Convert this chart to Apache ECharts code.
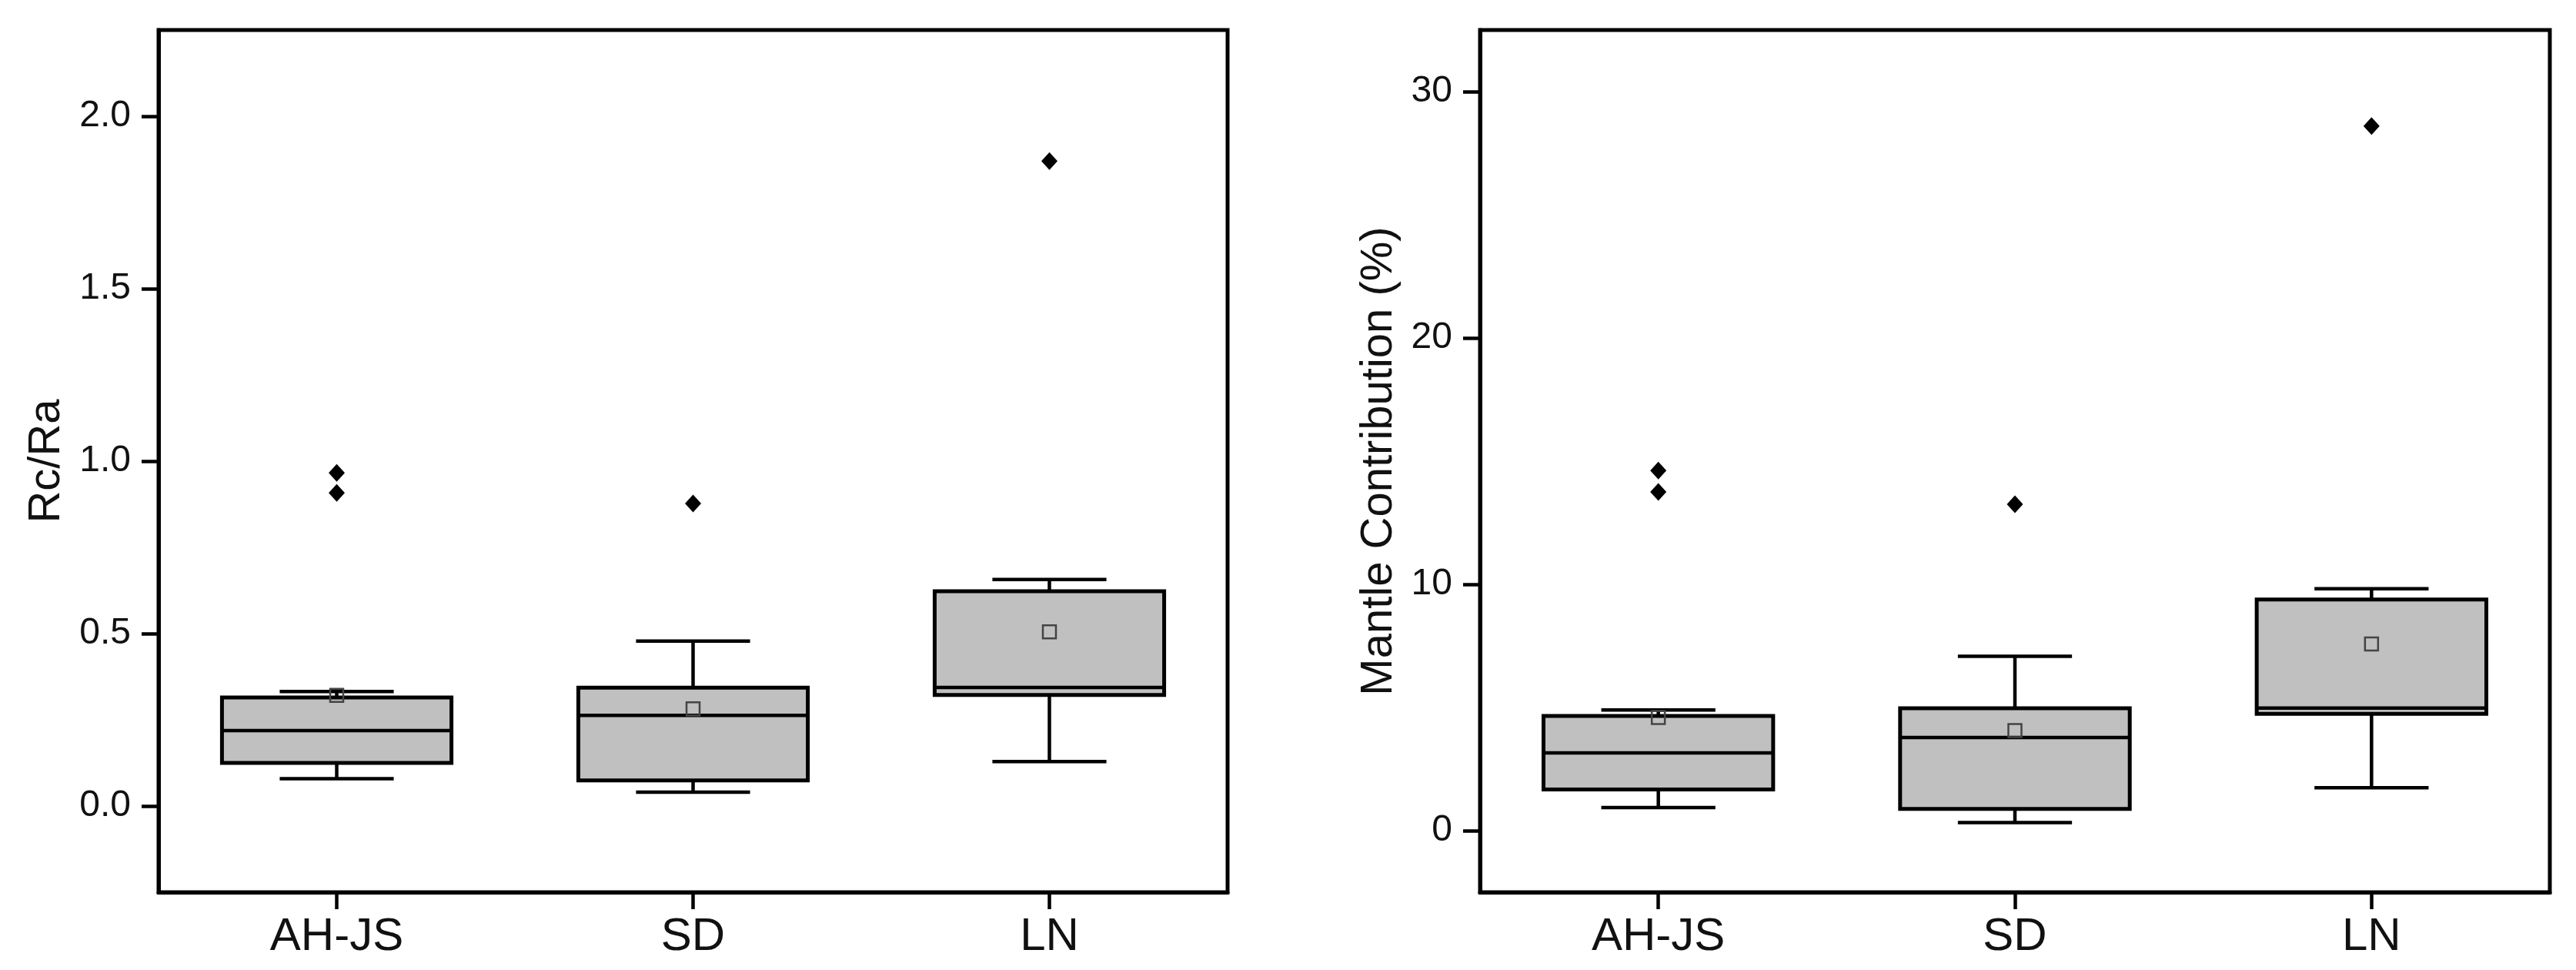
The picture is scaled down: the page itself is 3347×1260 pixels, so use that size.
<!DOCTYPE html>
<html>
<head>
<meta charset="utf-8">
<script src="https://cdn.jsdelivr.net/npm/echarts@6/dist/echarts.min.js"></script>
<style>
html,body{margin:0;padding:0;background:#fff;}
#c{width:3347px;height:1260px;}
</style>
</head>
<body>
<div id="c"></div>
<script>
// ---- data ----
const categories = ['AH-JS', 'SD', 'LN'];
// [lower whisker, Q1, median, Q3, upper whisker]
const rcBox = [
  [0.079, 0.125, 0.219, 0.315, 0.332],
  [0.040, 0.074, 0.263, 0.343, 0.478],
  [0.129, 0.322, 0.344, 0.623, 0.657]
];
const rcMean = [0.321, 0.282, 0.505];
const rcOutliers = [[0, 0.966], [0, 0.908], [1, 0.877], [2, 1.870]];
const rcTicks = [0, 0.5, 1.0, 1.5, 2.0];

const mcBox = [
  [0.94, 1.67, 3.16, 4.66, 4.90],
  [0.33, 0.88, 3.78, 4.97, 7.08],
  [1.74, 4.74, 4.98, 9.38, 9.82]
];
const mcMean = [4.59, 4.06, 7.58];
const mcOutliers = [[0, 14.62], [0, 13.75], [1, 13.25], [2, 28.6]];
const mcTicks = [0, 10, 20, 30];

// ---- styling ----
const FONT = 'Liberation Sans, Arial, sans-serif';
const INK = '#000';
const BOX_FILL = '#c0c0c0';

function boxRender(params, api) {
  const ci = api.value(0);
  const lo = api.coord([ci, api.value(1)]);
  const q1 = api.coord([ci, api.value(2)]);
  const md = api.coord([ci, api.value(3)]);
  const q3 = api.coord([ci, api.value(4)]);
  const hi = api.coord([ci, api.value(5)]);
  const band = api.size([1, 0])[0];
  const bw = band * 0.644;
  const cw = band * 0.32;
  const cx = lo[0];
  const ls = {stroke: INK, lineWidth: 4.5};
  return {
    type: 'group',
    children: [
      {type: 'line', shape: {x1: cx, y1: q3[1], x2: cx, y2: hi[1]}, style: ls},
      {type: 'line', shape: {x1: cx, y1: q1[1], x2: cx, y2: lo[1]}, style: ls},
      {type: 'line', shape: {x1: cx - cw / 2, y1: hi[1], x2: cx + cw / 2, y2: hi[1]}, style: ls},
      {type: 'line', shape: {x1: cx - cw / 2, y1: lo[1], x2: cx + cw / 2, y2: lo[1]}, style: ls},
      {type: 'rect', shape: {x: cx - bw / 2, y: q3[1], width: bw, height: q1[1] - q3[1]},
       style: {fill: BOX_FILL, stroke: INK, lineWidth: 5}},
      {type: 'line', shape: {x1: cx - bw / 2, y1: md[1], x2: cx + bw / 2, y2: md[1]}, style: ls}
    ]
  };
}

function xAxisCfg(gi) {
  return {
    type: 'category', gridIndex: gi, data: categories, boundaryGap: true,
    axisLine: {show: true, onZero: false, lineStyle: {color: INK, width: 5}},
    axisTick: {show: true, alignWithLabel: true, length: 22, lineStyle: {color: INK, width: 4.5}},
    axisLabel: {color: '#111', fontSize: 60, fontFamily: FONT, margin: 28},
    splitLine: {show: false}
  };
}
function yAxisCfg(gi, min, max, ticks, fmt, name, gap) {
  return {
    type: 'value', gridIndex: gi, min: min, max: max,
    name: name, nameLocation: 'middle', nameGap: gap, nameRotate: 90,
    nameTextStyle: {color: '#111', fontSize: 58, fontFamily: FONT},
    axisLine: {show: true, onZero: false, lineStyle: {color: INK, width: 5}},
    axisTick: {show: true, length: 22, customValues: ticks, lineStyle: {color: INK, width: 4.5}},
    axisLabel: {color: '#111', fontSize: 48, fontFamily: FONT, margin: 36,
                customValues: ticks, formatter: fmt},
    splitLine: {show: false}
  };
}

function boxData(arr) { return arr.map((b, i) => [i].concat(b)); }
function meanData(arr) { return arr.map((m, i) => [i, m]); }

const meanStyle = {color: 'rgba(0,0,0,0)', borderColor: '#444', borderWidth: 2.5, opacity: 1};
const outStyle = {color: INK, opacity: 1};

const chart = echarts.init(document.getElementById('c'), null, {renderer: 'canvas'});
chart.setOption({
  backgroundColor: '#fff',
  animation: false,
  grid: [
    {left: 206, top: 39, width: 1389, height: 1120, show: true, borderColor: INK, borderWidth: 5, backgroundColor: 'transparent'},
    {left: 1923, top: 39, width: 1390, height: 1120, show: true, borderColor: INK, borderWidth: 5, backgroundColor: 'transparent'}
  ],
  xAxis: [xAxisCfg(0), xAxisCfg(1)],
  yAxis: [
    yAxisCfg(0, -0.25, 2.25, rcTicks, v => v.toFixed(1), 'Rc/Ra', 116),
    yAxisCfg(1, -2.5, 32.5, mcTicks, v => String(Math.round(v)), 'Mantle Contribution (%)', 102)
  ],
  series: [
    {type: 'custom', xAxisIndex: 0, yAxisIndex: 0, renderItem: boxRender,
     encode: {x: 0, y: [1, 2, 3, 4, 5]}, data: boxData(rcBox), z: 2},
    {type: 'scatter', xAxisIndex: 0, yAxisIndex: 0, data: meanData(rcMean), symbol: 'rect', symbolSize: 17,
     itemStyle: meanStyle, z: 3},
    {type: 'scatter', xAxisIndex: 0, yAxisIndex: 0, data: rcOutliers, symbol: 'diamond', symbolSize: [21, 23],
     itemStyle: outStyle, z: 3},
    {type: 'custom', xAxisIndex: 1, yAxisIndex: 1, renderItem: boxRender,
     encode: {x: 0, y: [1, 2, 3, 4, 5]}, data: boxData(mcBox), z: 2},
    {type: 'scatter', xAxisIndex: 1, yAxisIndex: 1, data: meanData(mcMean), symbol: 'rect', symbolSize: 17,
     itemStyle: meanStyle, z: 3},
    {type: 'scatter', xAxisIndex: 1, yAxisIndex: 1, data: mcOutliers, symbol: 'diamond', symbolSize: [21, 23],
     itemStyle: outStyle, z: 3}
  ]
});
</script>
</body>
</html>
